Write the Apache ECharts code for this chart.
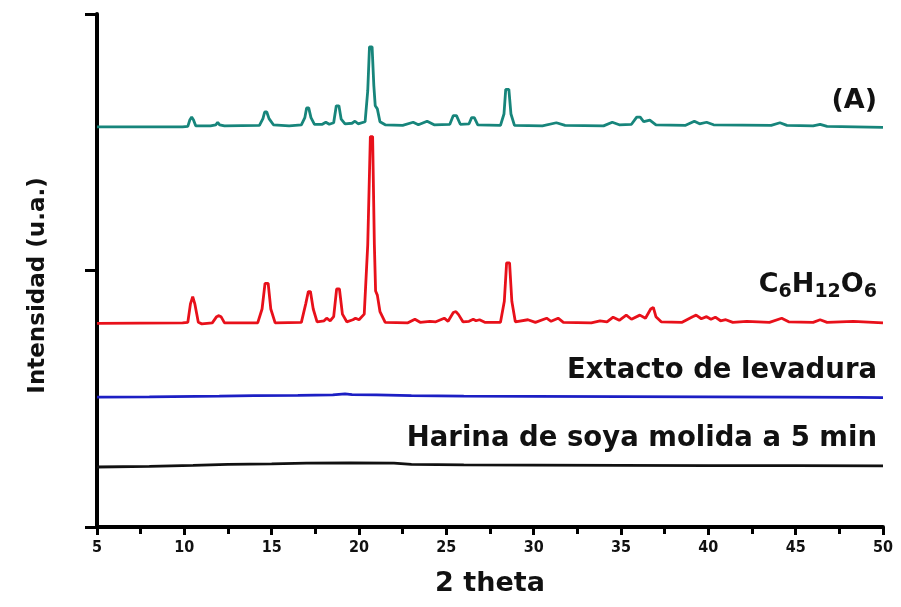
<!DOCTYPE html>
<html>
<head>
<meta charset="utf-8">
<script src="https://cdn.jsdelivr.net/npm/echarts@6/dist/echarts.min.js"></script>
<style>html,body{margin:0;padding:0;background:#fff}#c{width:901px;height:607px}</style>
</head>
<body>
<div id="c"></div>
<script>
// x axis (2 theta) ticks
const xTicks = [5, 10, 15, 20, 25, 30, 35, 40, 45, 50];
const xLabel = '2 theta';
const yLabel = 'Intensidad (u.a.)';
const seriesNames = ['(A)', 'C6H12O6', 'Extacto de levadura', 'Harina de soya molida a 5 min'];

// (A) – teal pattern  [2theta, intensity(offset units)]
const seriesA = [[5,78.0],[9.9,78.0],[10.2,78.1],[10.32,79.4],[10.42,79.9],[10.52,79.4],[10.65,78.2],[11.5,78.2],[11.8,78.4],[11.91,78.9],[12.02,78.4],[12.3,78.2],[14.3,78.3],[14.5,79.6],[14.6,80.9],[14.72,80.9],[14.85,79.6],[15.1,78.4],[16.0,78.2],[16.7,78.4],[16.9,79.8],[17.0,81.7],[17.12,81.7],[17.25,79.8],[17.45,78.5],[17.9,78.5],[18.1,78.9],[18.3,78.5],[18.55,78.8],[18.7,82.1],[18.85,82.1],[18.98,79.5],[19.2,78.6],[19.6,78.7],[19.77,79.1],[19.95,78.6],[20.35,79.0],[20.5,85.0],[20.6,93.6],[20.75,93.6],[20.85,86.0],[20.93,82.1],[21.05,81.5],[21.2,79.0],[21.5,78.4],[22.5,78.3],[23.1,78.9],[23.4,78.4],[23.9,79.1],[24.3,78.4],[25.2,78.5],[25.4,80.2],[25.58,80.2],[25.8,78.5],[26.3,78.6],[26.45,79.8],[26.6,79.8],[26.8,78.4],[28.1,78.3],[28.3,80.5],[28.4,85.3],[28.58,85.3],[28.7,80.5],[28.9,78.3],[30.5,78.2],[31.3,78.8],[31.8,78.3],[34.0,78.2],[34.5,78.9],[34.9,78.4],[35.6,78.5],[35.9,79.9],[36.1,79.9],[36.3,79.0],[36.65,79.3],[37.0,78.4],[38.7,78.3],[39.2,79.1],[39.5,78.6],[39.9,78.9],[40.3,78.4],[43.6,78.3],[44.1,78.8],[44.5,78.3],[46.0,78.2],[46.4,78.5],[46.8,78.1],[50,77.9]];

// C6H12O6 – red pattern
const seriesGlucose = [[5,39.7],[9.9,39.8],[10.2,39.9],[10.35,43.5],[10.48,44.9],[10.6,43.5],[10.8,39.9],[11.0,39.6],[11.6,39.8],[11.85,41.0],[11.98,41.2],[12.1,41.0],[12.3,39.8],[14.2,39.8],[14.45,42.5],[14.62,47.5],[14.8,47.5],[14.95,42.5],[15.2,39.8],[16.7,39.9],[16.95,43.5],[17.1,45.9],[17.22,45.9],[17.38,42.5],[17.6,40.0],[18.0,40.2],[18.15,40.7],[18.35,40.2],[18.55,41.0],[18.72,46.4],[18.88,46.4],[19.05,41.5],[19.3,40.0],[19.65,40.4],[19.8,40.7],[20.0,40.4],[20.3,41.5],[20.5,55],[20.65,76.1],[20.78,76.1],[20.88,55],[20.95,46.0],[21.05,45.2],[21.2,42.0],[21.5,39.9],[22.8,39.8],[23.2,40.5],[23.5,39.9],[24.06,40.1],[24.4,40.0],[24.88,40.7],[25.1,40.1],[25.4,41.8],[25.55,42.0],[25.7,41.4],[25.95,40.0],[26.3,40.1],[26.54,40.5],[26.7,40.2],[26.9,40.4],[27.2,39.9],[28.1,39.9],[28.32,44],[28.45,51.5],[28.62,51.5],[28.75,44],[28.95,40.0],[29.67,40.4],[30.1,39.9],[30.74,40.7],[31.0,40.1],[31.4,40.7],[31.7,39.9],[33.3,39.8],[33.8,40.2],[34.2,40.0],[34.55,40.9],[34.9,40.3],[35.3,41.3],[35.6,40.5],[36.08,41.3],[36.4,40.7],[36.7,42.5],[36.85,42.8],[37.0,41.0],[37.3,40.0],[38.5,39.9],[39.1,41.0],[39.3,41.3],[39.6,40.6],[39.9,41.0],[40.15,40.5],[40.4,40.9],[40.7,40.2],[41.0,40.4],[41.4,39.9],[42.2,40.1],[43.5,39.9],[44.2,40.7],[44.6,40.0],[46.0,39.9],[46.4,40.4],[46.8,39.9],[48.3,40.1],[50,39.8]];

// Extracto de levadura – blue (amorphous)
const seriesYeast = [[5,25.3],[8,25.35],[12.0,25.5],[14,25.6],[16.5,25.65],[18.5,25.75],[19.2,25.95],[19.6,25.8],[21,25.75],[23,25.6],[26,25.5],[30,25.45],[35,25.4],[40,25.35],[45,25.3],[48.5,25.25],[50,25.2]];

// Harina de soya – black (amorphous)
const seriesSoy = [[5,11.7],[8,11.8],[10.5,12.0],[12.5,12.2],[15,12.3],[17,12.45],[19.5,12.5],[22,12.45],[23,12.2],[26,12.1],[30,12.05],[35,12.0],[40,11.95],[45,11.95],[50,11.9]];

const chart = echarts.init(document.getElementById('c'), null, {renderer: 'canvas'});
const font = 'DejaVu Sans';
const lineSeries = (name, data, color, w) => ({
  name, type: 'line', data, showSymbol: false, symbol: 'none', smooth: false,
  lineStyle: {color, width: w}, z: 3, animation: false
});

chart.setOption({
  animation: false,
  backgroundColor: '#ffffff',
  grid: {left: 97, right: 18, top: 14, bottom: 80, containLabel: false},
  xAxis: {
    type: 'value', min: 5, max: 50, interval: 5,
    name: xLabel, nameLocation: 'middle', nameGap: 43,
    nameTextStyle: {fontFamily: font, fontWeight: 'bold', fontSize: 27, color: '#111'},
    axisLine: {show: true, onZero: false, lineStyle: {color: '#000', width: 4}},
    axisTick: {show: true, length: 8, lineStyle: {color: '#000', width: 3}},
    minorTick: {show: true, splitNumber: 2, length: 7, lineStyle: {color: '#000', width: 3}},
    axisLabel: {margin: 13, fontFamily: 'DejaVu Sans Condensed', fontWeight: 'bold', fontSize: 16, color: '#111',
      formatter: v => xTicks.includes(v) ? String(v) : ''},
    splitLine: {show: false}
  },
  yAxis: {
    type: 'value', min: 0, max: 100, interval: 50,
    name: yLabel, nameLocation: 'middle', nameGap: 47, nameRotate: 90,
    nameTextStyle: {fontFamily: font, fontWeight: 'bold', fontSize: 23, color: '#111', padding: [0, 30, 0, 0]},
    axisLine: {show: true, onZero: false, lineStyle: {color: '#000', width: 4}},
    axisTick: {show: true, length: 12, lineStyle: {color: '#000', width: 3}},
    axisLabel: {show: false},
    splitLine: {show: false}
  },
  series: [
    lineSeries(seriesNames[0], seriesA, '#17857b', 2.8),
    lineSeries(seriesNames[1], seriesGlucose, '#e8101a', 2.8),
    lineSeries(seriesNames[2], seriesYeast, '#1c1fc4', 2.8),
    lineSeries(seriesNames[3], seriesSoy, '#111111', 2.8)
  ],
  graphic: [
    {type: 'text', right: 24, top: 87, style: {text: '(A)', font: 'bold 27px "DejaVu Sans"', fill: '#111'}},
    {type: 'text', right: 24, top: 271, style: {
      text: '{b|C}{s|6}{b|H}{s|12}{b|O}{s|6}',
      rich: {
        b: {font: 'bold 27px "DejaVu Sans"', fill: '#111', lineHeight: 31, verticalAlign: 'top'},
        s: {font: 'bold 19px "DejaVu Sans"', fill: '#111', lineHeight: 31, padding: [12, 0, 0, 0], verticalAlign: 'top'}
      }}},
    {type: 'text', right: 24, top: 357, style: {text: seriesNames[2], font: 'bold 27.5px "DejaVu Sans"', fill: '#111'}},
    {type: 'text', right: 24, top: 425, style: {text: seriesNames[3], font: 'bold 27.5px "DejaVu Sans"', fill: '#111'}}
  ]
});
</script>
</body>
</html>
